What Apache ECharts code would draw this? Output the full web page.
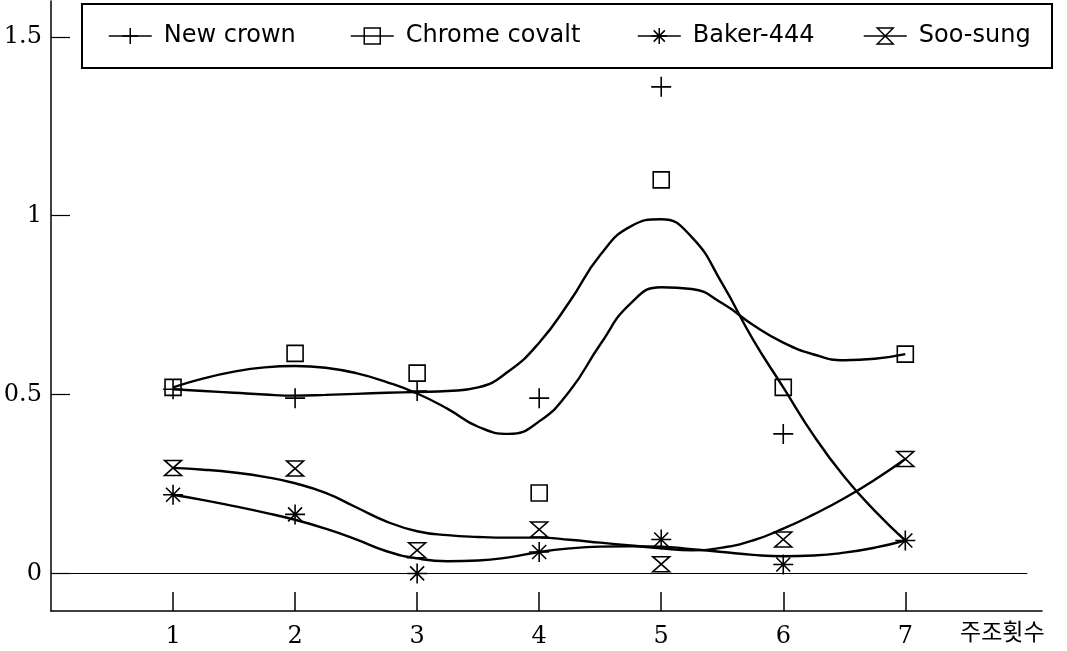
<!DOCTYPE html>
<html>
<head>
<meta charset="utf-8">
<script src="https://cdn.jsdelivr.net/npm/echarts@6.0.0/dist/echarts.min.js"></script>
<style>
  html, body { margin: 0; padding: 0; background: #fff; }
  #chart { width: 1067px; height: 651px; }
</style>
</head>
<body>
<div id="chart"></div>
<script>
// casting rounds (x axis) and measured values
const steps = [1, 2, 3, 4, 5, 6, 7]
const seriesNames = ['New crown', 'Chrome covalt', 'Baker-444', 'Soo-sung']
const newCrown = [0.515, 0.49, 0.51, 0.49, 1.36, 0.39, null]
const chromeCovalt = [0.52, 0.615, 0.56, 0.225, 1.10, 0.52, 0.613]
const baker444 = [0.22, 0.165, 0.0, 0.06, 0.095, 0.025, 0.092]
const sooSung = [0.295, 0.293, 0.065, 0.123, 0.026, 0.095, 0.32]

// fitted curves at quarter steps
const fitX = [1, 1.25, 1.5, 1.75, 2, 2.25, 2.5, 2.75, 3, 3.25, 3.5, 3.75, 4, 4.25, 4.5, 4.75, 5, 5.25, 5.5, 5.75, 6, 6.25, 6.5, 6.75, 7]
const newCrownFit = [0.515, 0.51, 0.505, 0.5, 0.497, 0.499, 0.502, 0.505, 0.507, 0.51, 0.52, 0.565, 0.645, 0.76, 0.89, 0.97, 0.99, 0.94, 0.81, 0.655, 0.52, 0.385, 0.27, 0.175, 0.092]
const chromeFit = [0.52, 0.545, 0.564, 0.576, 0.58, 0.575, 0.56, 0.535, 0.503, 0.46, 0.41, 0.39, 0.425, 0.51, 0.64, 0.755, 0.8, 0.795, 0.755, 0.695, 0.645, 0.612, 0.596, 0.6, 0.613]
const bakerFit = [0.22, 0.205, 0.188, 0.17, 0.15, 0.125, 0.095, 0.062, 0.042, 0.034, 0.036, 0.045, 0.06, 0.07, 0.075, 0.076, 0.075, 0.068, 0.06, 0.052, 0.048, 0.05, 0.058, 0.072, 0.092]
const sooSungFit = [0.295, 0.29, 0.282, 0.27, 0.252, 0.225, 0.185, 0.145, 0.118, 0.107, 0.102, 0.1, 0.1, 0.094, 0.086, 0.078, 0.07, 0.065, 0.072, 0.092, 0.125, 0.165, 0.21, 0.262, 0.32]

const yTicks = [0, 0.5, 1, 1.5]
const xAxisName = '주조횟수'

const pair = (xs, ys) => xs.map((x, i) => [x, ys[i]])

const markerSymbols = [
  'path://M0,10 L20,10 M10,0 L10,20',
  'rect',
  'path://M0,10 L20,10 M10,0 L10,20 M3,3 L17,17 M17,3 L3,17',
  'path://M0,0 L20,0 L0,20 L20,20 Z'
]
const markerSizes = [20, 16, 20, [17, 15]]
const markerValues = [newCrown, chromeCovalt, baker444, sooSung]
const legendLeft = [108, 350, 637, 863]

const chart = echarts.init(document.getElementById('chart'))

const fitSeries = [newCrownFit, chromeFit, bakerFit, sooSungFit].map((ys, i) => ({
  name: seriesNames[i] + ' fit',
  type: 'line',
  smooth: true,
  showSymbol: false,
  silent: true,
  data: pair(fitX, ys),
  lineStyle: { color: '#000', width: 2.4 },
  z: 2
}))

// zero reference line
fitSeries[0].markLine = {
  silent: true,
  symbol: ['none', 'none'],
  label: { show: false },
  lineStyle: { color: '#000', width: 1.2, type: 'solid' },
  data: [[{ coord: [0, 0] }, { coord: [8.0, 0] }]]
}

const markerSeries = markerValues.map((vals, i) => ({
  name: seriesNames[i],
  type: 'line',
  data: steps.map((s, j) => [s, vals[j]]),
  symbol: markerSymbols[i],
  symbolSize: markerSizes[i],
  showAllSymbol: true,
  lineStyle: { width: 0, opacity: 0 },
  itemStyle: { color: 'rgba(0,0,0,0)', borderColor: '#000', borderWidth: 1.6 },
  z: 3
}))

chart.setOption({
  animation: false,
  backgroundColor: '#fff',
  grid: { left: 51, right: 25, top: 1, bottom: 40 },
  legend: seriesNames.map((n, i) => ({
    data: [n],
    left: legendLeft[i],
    top: 24,
    padding: 0,
    itemWidth: 43,
    itemHeight: 20,
    selectedMode: false,
    textStyle: { fontFamily: 'DejaVu Sans', fontSize: 24, color: '#000', padding: [0, 0, 0, 7] },
    itemStyle: { color: 'rgba(0,0,0,0)', borderColor: '#000', borderWidth: 1.5 },
    lineStyle: { color: '#000', width: 1.5, opacity: 1 }
  })),
  graphic: [
    {
      type: 'rect',
      shape: { x: 82, y: 4, width: 970, height: 64 },
      style: { fill: 'none', stroke: '#000', lineWidth: 2 },
      silent: true
    },
    {
      type: 'text',
      left: 960,
      top: 620,
      style: { text: xAxisName, font: '23px "Noto Sans CJK KR"', fill: '#000' },
      silent: true
    }
  ],
  xAxis: {
    type: 'value',
    min: 0,
    max: 8.12,
    axisLine: { onZero: false, lineStyle: { color: '#000', width: 1.5 } },
    axisTick: { inside: true, length: 19, customValues: steps, lineStyle: { color: '#000', width: 1.5 } },
    axisLabel: { customValues: steps, margin: 14, color: '#000', fontFamily: 'DejaVu Serif', fontSize: 24 },
    splitLine: { show: false }
  },
  yAxis: {
    type: 'value',
    min: -0.105,
    max: 1.6,
    axisLine: { show: true, onZero: false, lineStyle: { color: '#000', width: 1.5 } },
    axisTick: { show: true, inside: true, length: 19, customValues: yTicks, lineStyle: { color: '#000', width: 1.2 } },
    axisLabel: { customValues: yTicks, margin: 9, color: '#000', fontFamily: 'DejaVu Serif', fontSize: 24 },
    splitLine: { show: false }
  },
  series: fitSeries.concat(markerSeries)
})
</script>
</body>
</html>
